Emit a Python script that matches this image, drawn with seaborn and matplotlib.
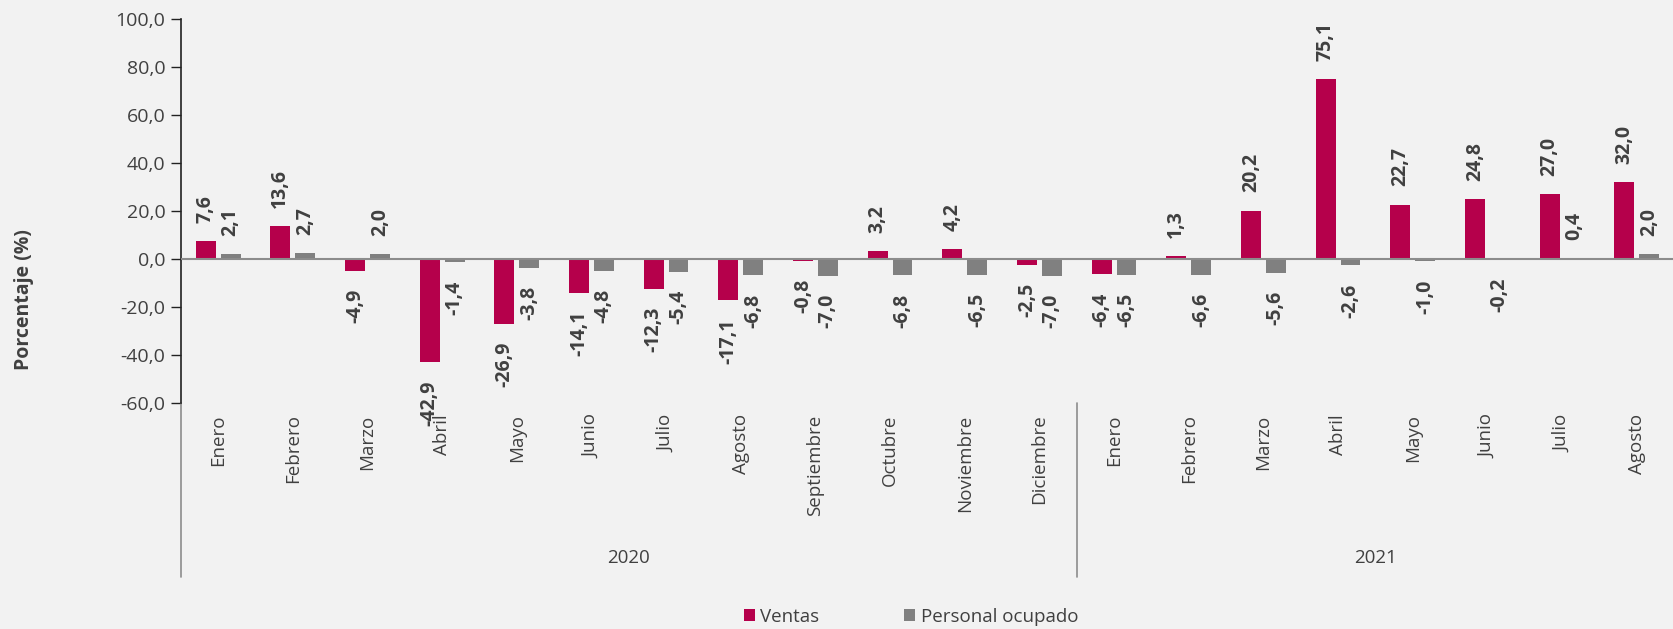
# ============================================================
# Ventas y personal ocupado - variacion anual (%)
# ============================================================

import pandas as pd
import matplotlib.pyplot as plt
import matplotlib.ticker as mticker
from matplotlib.patches import Patch
import seaborn as sns

# ============================================================
# DATA
# ============================================================

MONTHS_2020 = ["Enero", "Febrero", "Marzo", "Abril", "Mayo", "Junio", "Julio",
               "Agosto", "Septiembre", "Octubre", "Noviembre", "Diciembre"]
MONTHS_2021 = ["Enero", "Febrero", "Marzo", "Abril", "Mayo", "Junio", "Julio",
               "Agosto"]
YEARS = ["2020", "2021"]
SERIES = ["Ventas", "Personal ocupado"]

VENTAS = [7.6, 13.6, -4.9, -42.9, -26.9, -14.1, -12.3, -17.1, -0.8, 3.2, 4.2, -2.5,
          -6.4, 1.3, 20.2, 75.1, 22.7, 24.8, 27.0, 32.0]
PERSONAL = [2.1, 2.7, 2.0, -1.4, -3.8, -4.8, -5.4, -6.8, -7.0, -6.8, -6.5, -7.0,
            -6.5, -6.6, -5.6, -2.6, -1.0, -0.2, 0.4, 2.0]

Y_TICKS = [-60, -40, -20, 0, 20, 40, 60, 80, 100]

# ============================================================
# STYLE
# ============================================================

BG = "#F2F2F2"
TEXT = "#404040"
COLORS = ["#B5004B", "#808080"]

sns.set_theme(style="white")
plt.rcParams["font.family"] = ["Open Sans", "DejaVu Sans"]


def fmt(v):
    return f"{v:.1f}".replace(".", ",")


# ============================================================
# BUILD TABLE
# ============================================================

periods = [f"2020-{m}" for m in MONTHS_2020] + [f"2021-{m}" for m in MONTHS_2021]
months = MONTHS_2020 + MONTHS_2021

df = pd.DataFrame({
    "periodo": periods * 2,
    "serie": [SERIES[0]] * len(periods) + [SERIES[1]] * len(periods),
    "valor": VENTAS + PERSONAL,
})

# ============================================================
# PLOT
# ============================================================

fig = plt.figure(figsize=(16.74, 6.29), dpi=100, facecolor=BG)
ax = fig.add_axes([0.108, 0.359, 0.892, 0.611])
ax.set_facecolor(BG)

sns.barplot(data=df, x="periodo", y="valor", hue="serie",
            order=periods, hue_order=SERIES, palette=COLORS, saturation=1,
            width=0.667, gap=0.2, errorbar=None, linewidth=0,
            legend=False, ax=ax)

ax.axhline(0, color="#8C8C8C", lw=1.5, zorder=3)

ax.set_xlim(-0.5, len(periods) - 0.5)
ax.set_ylim(-60, 100)
ax.set_yticks(Y_TICKS)
ax.yaxis.set_major_formatter(mticker.FuncFormatter(lambda v, p: fmt(v)))
ax.set_xticks(range(len(periods)))
ax.set_xticklabels(months, rotation=90, fontsize=13.5, color=TEXT)
ax.tick_params(axis="x", length=0, pad=8)
ax.tick_params(axis="y", left=True, length=7, width=1, color="#222222",
               labelsize=14, labelcolor=TEXT, pad=4)
ax.set_xlabel("")
ax.set_ylabel("")

for side in ["top", "right", "bottom"]:
    ax.spines[side].set_visible(False)
ax.spines["left"].set_color("#222222")
ax.spines["left"].set_linewidth(1.2)

# data labels
for container in ax.containers:
    for bar in container:
        v = bar.get_height()
        xc = bar.get_x() + bar.get_width() / 2
        ax.annotate(fmt(v), (xc, v),
                    xytext=(0, 13 if v >= 0 else -13), textcoords="offset points",
                    rotation=90, ha="center", va="bottom" if v >= 0 else "top",
                    fontsize=14, fontweight="bold", color=TEXT)

# year grouping under the month labels
trans = ax.get_xaxis_transform()
for xpos in [-0.5, len(MONTHS_2020) - 0.5]:
    ax.plot([xpos, xpos], [0, -0.453], transform=trans, color="#8C8C8C",
            lw=1.2, clip_on=False)
ax.text((len(MONTHS_2020) - 1) / 2, -0.404, YEARS[0], transform=trans,
        ha="center", va="center", fontsize=13.5, color=TEXT)
ax.text(len(MONTHS_2020) + (len(MONTHS_2021) - 1) / 2, -0.404, YEARS[1],
        transform=trans, ha="center", va="center", fontsize=13.5, color=TEXT)

fig.text(0.0143, 1 - 300 / 629, "Porcentaje (%)", rotation=90,
         ha="center", va="center", fontsize=14, fontweight="bold", color=TEXT)

handles = [Patch(facecolor=c, edgecolor="none", label=s)
           for s, c in zip(SERIES, COLORS)]
fig.legend(handles=handles, loc="center", bbox_to_anchor=(911 / 1674, 1 - 617 / 629),
           ncol=2, frameon=False, fontsize=13.5, handlelength=0.6, handleheight=0.6,
           handletextpad=0.3, columnspacing=4.5, labelcolor=TEXT)

fig.savefig("out.png", dpi=100, facecolor=fig.get_facecolor())
